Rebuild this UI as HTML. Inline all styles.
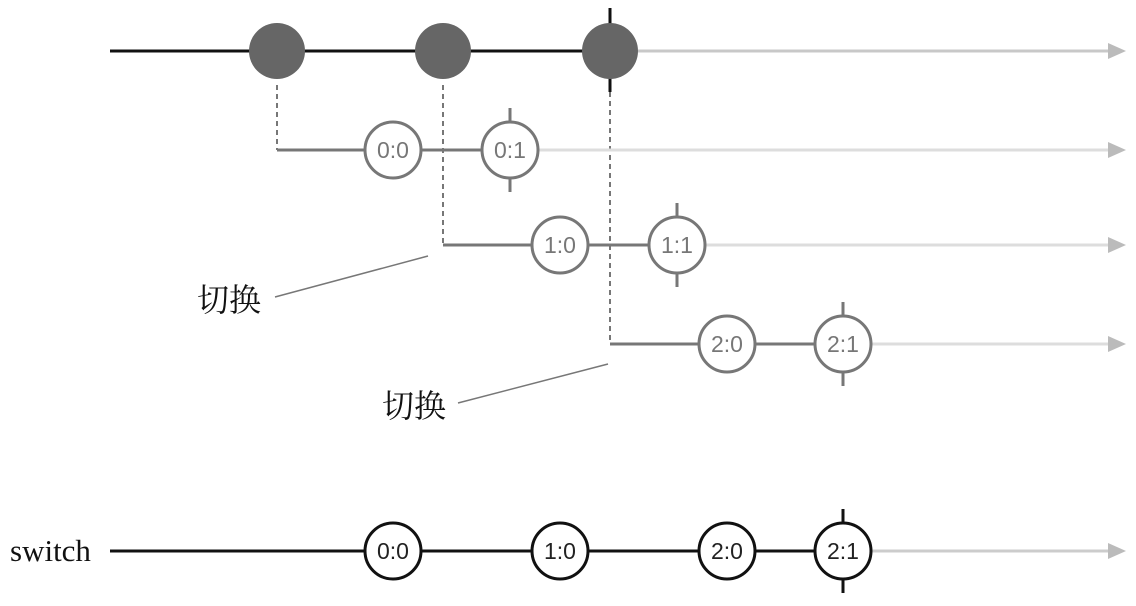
<!DOCTYPE html>
<html><head><meta charset="utf-8"><style>body{margin:0;background:#fff}</style></head><body>
<svg width="1136" height="601" viewBox="0 0 1136 601" xmlns="http://www.w3.org/2000/svg" font-family="Liberation Sans, sans-serif">
<!-- top -->
<line x1="110" y1="51" x2="610" y2="51" stroke="#111" stroke-width="3"/>
<line x1="610" y1="51" x2="1118" y2="51" stroke="#c8c8c8" stroke-width="3"/>
<path d="M1108,43 L1126,51 L1108,59z" fill="#bbb"/>
<line x1="610" y1="8" x2="610" y2="92" stroke="#111" stroke-width="3"/>
<g stroke="#777" stroke-width="2" stroke-dasharray="5,4">
<line x1="277" y1="85" x2="277" y2="150"/>
<line x1="443" y1="85" x2="443" y2="245"/>
<line x1="610" y1="92" x2="610" y2="344"/>
</g>
<circle cx="277" cy="51" r="28" fill="#666"/>
<circle cx="443" cy="51" r="28" fill="#666"/>
<circle cx="610" cy="51" r="28" fill="#666"/>
<!-- rows -->
<g font-size="23" text-anchor="middle" fill="#777">
<line x1="277" y1="150" x2="510" y2="150" stroke="#777" stroke-width="3"/>
<line x1="510" y1="150" x2="1118" y2="150" stroke="#ddd" stroke-width="3"/>
<path d="M1108,142 L1126,150 L1108,158z" fill="#bbb"/>
<line x1="510" y1="108" x2="510" y2="192" stroke="#777" stroke-width="3"/>
<circle cx="393" cy="150" r="28" fill="#fff" stroke="#777" stroke-width="3"/>
<circle cx="510" cy="150" r="28" fill="#fff" stroke="#777" stroke-width="3"/>
<text x="393" y="158">0:0</text><text x="510" y="158">0:1</text>

<line x1="443" y1="245" x2="677" y2="245" stroke="#777" stroke-width="3"/>
<line x1="677" y1="245" x2="1118" y2="245" stroke="#ddd" stroke-width="3"/>
<path d="M1108,237 L1126,245 L1108,253z" fill="#bbb"/>
<line x1="677" y1="203" x2="677" y2="287" stroke="#777" stroke-width="3"/>
<circle cx="560" cy="245" r="28" fill="#fff" stroke="#777" stroke-width="3"/>
<circle cx="677" cy="245" r="28" fill="#fff" stroke="#777" stroke-width="3"/>
<text x="560" y="253">1:0</text><text x="677" y="253">1:1</text>

<line x1="610" y1="344" x2="843" y2="344" stroke="#777" stroke-width="3"/>
<line x1="843" y1="344" x2="1118" y2="344" stroke="#ddd" stroke-width="3"/>
<path d="M1108,336 L1126,344 L1108,352z" fill="#bbb"/>
<line x1="843" y1="302" x2="843" y2="386" stroke="#777" stroke-width="3"/>
<circle cx="727" cy="344" r="28" fill="#fff" stroke="#777" stroke-width="3"/>
<circle cx="843" cy="344" r="28" fill="#fff" stroke="#777" stroke-width="3"/>
<text x="727" y="352">2:0</text><text x="843" y="352">2:1</text>
</g>
<!-- labels -->
<g font-family="Liberation Serif, Noto Serif CJK SC, serif" font-size="32" fill="#111">
<text x="197" y="311">切换</text>
<text x="382" y="417">切换</text>
<text x="10" y="561" font-size="31">switch</text>
</g>
<line x1="275" y1="297" x2="428" y2="256" stroke="#777" stroke-width="1.5"/>
<line x1="458" y1="403" x2="608" y2="364" stroke="#777" stroke-width="1.5"/>
<!-- bottom -->
<line x1="110" y1="551" x2="843" y2="551" stroke="#111" stroke-width="3"/>
<line x1="843" y1="551" x2="1118" y2="551" stroke="#ccc" stroke-width="3"/>
<path d="M1108,543 L1126,551 L1108,559z" fill="#bbb"/>
<line x1="843" y1="509" x2="843" y2="593" stroke="#111" stroke-width="3"/>
<g font-size="23" text-anchor="middle" fill="#222">
<circle cx="393" cy="551" r="28" fill="#fff" stroke="#111" stroke-width="3"/>
<circle cx="560" cy="551" r="28" fill="#fff" stroke="#111" stroke-width="3"/>
<circle cx="727" cy="551" r="28" fill="#fff" stroke="#111" stroke-width="3"/>
<circle cx="843" cy="551" r="28" fill="#fff" stroke="#111" stroke-width="3"/>
<text x="393" y="559">0:0</text><text x="560" y="559">1:0</text><text x="727" y="559">2:0</text><text x="843" y="559">2:1</text>
</g>
</svg>
</body></html>
